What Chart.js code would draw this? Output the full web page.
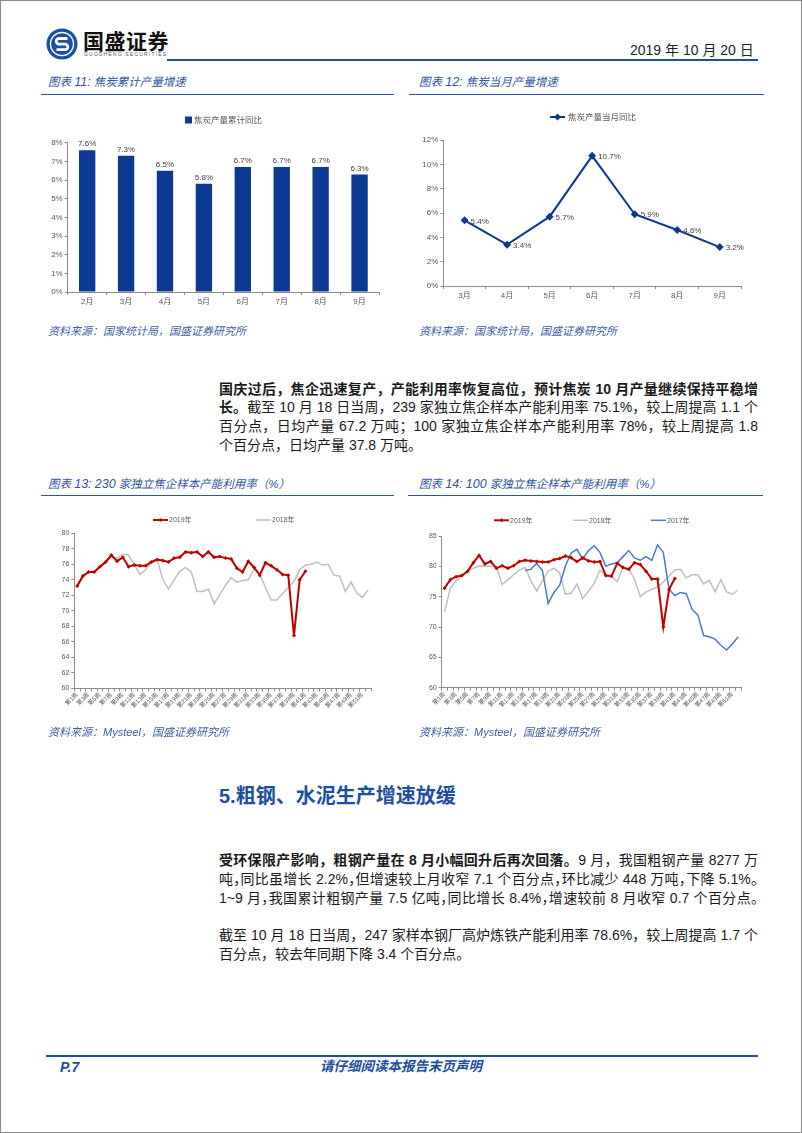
<!DOCTYPE html>
<html><head><meta charset="utf-8">
<script src="https://cdn.jsdelivr.net/npm/chart.js@4.4.0/dist/chart.umd.min.js"></script>
<style>
html,body{margin:0;padding:0;background:#fff;}
#page{position:relative;width:800px;height:1131px;border:1px solid #8a8a8a;overflow:hidden;font-family:"Liberation Sans","Noto Sans CJK SC",sans-serif;color:#1a1a1a;}
.abs{position:absolute;}
.title{font-style:italic;color:#2e56a0;font-size:11.5px;line-height:14px;white-space:nowrap;}
.title .n{font-size:12.5px;}
.uline{height:1.5px;background:#2e56a0;}
.src{font-style:italic;color:#3d5f9f;font-size:11px;line-height:14px;white-space:nowrap;}
.para{left:218px;width:539px;font-size:14px;}
.ln{white-space:nowrap;text-align:justify;text-align-last:justify;}
.ln.last{text-align-last:left;}
.halt{font-feature-settings:"halt";}
canvas{position:absolute;}
</style></head>
<body>
<div id="page">
  <!-- header -->
  <svg class="abs" style="left:45px;top:27px" width="32" height="32" viewBox="0 0 32 32">
    <circle cx="16" cy="16" r="15.5" fill="#1b4f9f"/>
    <circle cx="16" cy="16" r="11.5" fill="none" stroke="#fff" stroke-width="1.4"/>
    <path d="M21.5 10.5 H13 a2.8 2.8 0 0 0 0 5.6 h6 a2.8 2.8 0 0 1 0 5.6 H10.5" fill="none" stroke="#fff" stroke-width="2.8"/>
  </svg>
  <div class="abs" style="left:82px;top:27px;font-size:21px;font-weight:bold;line-height:24px;color:#111;font-family:'Noto Sans CJK SC';letter-spacing:0.5px">国盛证券</div>
  <div class="abs" style="left:83px;top:50px;font-size:5px;line-height:6px;letter-spacing:1.2px;color:#555">GUOSHENG SECURITIES</div>
  <div class="abs" style="left:629px;top:40px;font-size:14px;line-height:18px;color:#222;white-space:nowrap">2019 年 10 月 20 日</div>
  <div class="abs" style="left:166px;top:58px;width:591px;height:2px;background:#1d4fa0"></div>

  <!-- chart titles top -->
  <div class="abs title" style="left:47px;top:74px">图表 <span class="n">11:</span> 焦炭累计产量增速</div>
  <div class="abs uline" style="left:40px;top:92.5px;width:353px"></div>
  <div class="abs title" style="left:418px;top:74px">图表 <span class="n">12:</span> 焦炭当月产量增速</div>
  <div class="abs uline" style="left:408px;top:92.5px;width:355px"></div>

  <canvas id="c11" width="355" height="215" style="left:40px;top:100px"></canvas>
  <canvas id="c12" width="350" height="215" style="left:410px;top:100px"></canvas>

  <div class="abs src" style="left:47px;top:323px">资料来源：国家统计局，国盛证券研究所</div>
  <div class="abs src" style="left:418px;top:323px">资料来源：国家统计局，国盛证券研究所</div>

  <div class="abs para" style="top:378.5px;line-height:18.7px">
    <div class="ln"><b>国庆过后，焦企迅速复产，产能利用率恢复高位，预计焦炭 10 月产量继续保持平稳增</b></div>
    <div class="ln"><b>长。</b>截至 10 月 18 日当周，239 家独立焦企样本产能利用率 75.1%，较上周提高 1.1 个</div>
    <div class="ln">百分点，日均产量 67.2 万吨；100 家独立焦企样本产能利用率 78%，较上周提高 1.8</div>
    <div class="ln last">个百分点，日均产量 37.8 万吨。</div>
  </div>

  <!-- chart titles middle -->
  <div class="abs title" style="left:47px;top:476px">图表 <span class="n">13:</span> <span class="n">230</span> 家独立焦企样本产能利用率（%）</div>
  <div class="abs uline" style="left:40px;top:493.5px;width:353px"></div>
  <div class="abs title" style="left:418px;top:476px">图表 <span class="n">14:</span> <span class="n">100</span> 家独立焦企样本产能利用率（%）</div>
  <div class="abs uline" style="left:407px;top:493.5px;width:355px"></div>

  <canvas id="c13" width="340" height="230" style="left:40px;top:500px"></canvas>
  <canvas id="c14" width="370" height="230" style="left:400px;top:500px"></canvas>

  <div class="abs src" style="left:47px;top:724px">资料来源：Mysteel，国盛证券研究所</div>
  <div class="abs src" style="left:418px;top:724px">资料来源：Mysteel，国盛证券研究所</div>

  <div class="abs" style="left:218px;top:783px;font-size:20px;line-height:24px;font-weight:bold;color:#1d4fa0;white-space:nowrap">5.粗钢、水泥生产增速放缓</div>

  <div class="abs para" style="top:849.5px;line-height:19px">
    <div class="ln"><b>受环保限产影响，粗钢产量在 8 月小幅回升后再次回落。</b>9 月，我国粗钢产量 8277 万</div>
    <div class="ln halt">吨，同比虽增长 2.2%，但增速较上月收窄 7.1 个百分点，环比减少 448 万吨，下降 5.1%。</div>
    <div class="ln halt">1~9 月，我国累计粗钢产量 7.5 亿吨，同比增长 8.4%，增速较前 8 月收窄 0.7 个百分点。</div>
  </div>
  <div class="abs para" style="top:924.5px;line-height:19px">
    <div class="ln">截至 10 月 18 日当周，247 家样本钢厂高炉炼铁产能利用率 78.6%，较上周提高 1.7 个</div>
    <div class="ln last">百分点，较去年同期下降 3.4 个百分点。</div>
  </div>

  <!-- footer -->
  <div class="abs" style="left:45px;top:1054px;width:712px;height:2px;background:#1d4fa0"></div>
  <div class="abs" style="left:59px;top:1058px;font-size:14px;line-height:16px;font-weight:bold;font-style:italic;color:#1d4fa0">P.7</div>
  <div class="abs" style="left:300px;width:200px;text-align:center;top:1058px;font-size:13.5px;line-height:16px;font-weight:bold;font-style:italic;color:#1d4fa0;white-space:nowrap">请仔细阅读本报告末页声明</div>
</div>

<script>
// ---------- data ----------
const monthsCum = ['2月','3月','4月','5月','6月','7月','8月','9月'];
const cokeCumYoY = [7.6, 7.3, 6.5, 5.8, 6.7, 6.7, 6.7, 6.3];

const monthsMon = ['3月','4月','5月','6月','7月','8月','9月'];
const cokeMonYoY = [5.4, 3.4, 5.7, 10.7, 5.9, 4.6, 3.2];

const weekLabels = ['第1周','第2周','第3周','第4周','第5周','第6周','第7周','第8周','第9周','第10周',
  '第11周','第12周','第13周','第14周','第15周','第16周','第17周','第18周','第19周','第20周',
  '第21周','第22周','第23周','第24周','第25周','第26周','第27周','第28周','第29周','第30周',
  '第31周','第32周','第33周','第34周','第35周','第36周','第37周','第38周','第39周','第40周',
  '第41周','第42周','第43周','第44周','第45周','第46周','第47周','第48周','第49周','第50周',
  '第51周','第52周'];

const util230_2019 = [73.2,74.5,75.0,75.0,75.7,76.3,77.2,76.4,76.9,75.7,75.9,75.8,75.8,76.3,76.6,76.5,76.3,76.8,76.9,77.6,
  77.5,77.6,77.0,77.6,76.9,77.0,76.8,76.7,75.5,75.0,76.4,75.6,74.6,76.2,75.8,75.3,74.7,74.6,66.8,74.0,75.1];
const util230_2018 = [73.0,74.4,75.0,75.1,75.6,76.2,77.0,76.8,77.3,77.2,76.0,74.7,75.3,76.2,76.6,74.1,72.8,74.0,75.1,75.6,
  75.0,72.5,72.5,72.8,70.9,72.1,73.3,74.3,73.7,73.9,74.0,75.4,74.8,73.0,71.4,71.4,72.2,73.0,73.8,75.3,
  75.9,76.0,76.3,75.9,76.0,74.6,74.5,72.5,73.7,72.3,71.7,72.7];

const util100_2019 = [76.4,77.8,78.3,78.5,79.2,80.6,81.8,80.4,80.8,79.7,80.1,79.7,80.1,80.8,81.0,80.9,80.8,80.7,80.7,81.1,
  81.3,81.7,81.4,80.8,81.4,80.9,80.7,80.8,78.5,78.4,80.5,79.8,79.5,80.6,80.3,79.2,77.9,77.9,70.0,76.2,78.0];
const util100_2018 = [72.5,76.4,77.6,78.4,79.2,79.7,80.1,80.0,80.0,79.9,77.0,77.8,78.6,79.4,79.8,77.6,75.9,77.6,79.2,79.7,
  78.9,75.4,75.6,77.1,74.7,75.9,77.2,79.4,78.4,78.3,77.5,79.8,79.5,77.9,75.0,75.8,76.2,76.6,77.4,78.4,
  79.4,79.5,78.1,78.6,78.6,77.1,77.7,75.8,77.8,75.8,75.4,76.1];
const util100_2017 = [null,null,null,null,null,null,null,null,null,null,null,null,null,null,
  79.3,79.5,80.5,79.3,73.9,75.7,76.9,80.1,82.2,82.8,81.2,82.6,83.4,82.3,80.0,80.4,
  80.6,81.6,82.6,81.4,81.0,81.6,81.0,83.5,82.3,76.2,75.2,75.7,75.5,72.9,72.0,68.6,68.4,68.0,67.0,66.2,
  67.2,68.4];

// ---------- helpers ----------
const FONT = '"Liberation Sans","Noto Sans CJK SC",sans-serif';
const AX = '#8c8c8c';
const TXT = '#595959';
const BLUE = '#0c3a92';
const RED = '#c00000';
const GRAY = '#bfbfbf';
const BLUE17 = '#4a7cc2';

const legendPlugin = {
  id: 'customLegend',
  afterDraw(chart, args, opts) {
    const ctx = chart.ctx; ctx.save();
    (opts.items || []).forEach(it => {
      ctx.strokeStyle = it.color; ctx.fillStyle = it.color;
      if (it.type === 'box') {
        ctx.fillRect(it.x, it.y - it.size / 2, it.size, it.size);
      } else {
        ctx.lineWidth = it.width; ctx.beginPath();
        ctx.moveTo(it.x, it.y); ctx.lineTo(it.x + it.len, it.y); ctx.stroke();
        if (it.mr) {
          const cx = it.x + it.len / 2, r = it.mr;
          ctx.beginPath(); ctx.moveTo(cx, it.y - r); ctx.lineTo(cx + r, it.y);
          ctx.lineTo(cx, it.y + r); ctx.lineTo(cx - r, it.y); ctx.closePath(); ctx.fill();
        }
      }
      ctx.fillStyle = opts.color || TXT; ctx.font = opts.font;
      ctx.textAlign = 'left'; ctx.textBaseline = 'middle';
      ctx.fillText(it.text, it.tx, it.y + 0.5);
    });
    ctx.restore();
  }
};

const valuePlugin = {
  id: 'valueLabels',
  afterDatasetsDraw(chart, args, opts) {
    if (!opts || !opts.mode) return;
    const ctx = chart.ctx; const meta = chart.getDatasetMeta(0);
    const data = chart.data.datasets[0].data;
    ctx.save(); ctx.font = opts.font; ctx.fillStyle = opts.color || '#404040';
    meta.data.forEach((el, i) => {
      const t = data[i].toFixed(1) + '%';
      if (opts.mode === 'above') {
        ctx.textAlign = 'center'; ctx.textBaseline = 'bottom';
        ctx.fillText(t, el.x, el.y - 2);
      } else {
        ctx.textAlign = 'left'; ctx.textBaseline = 'middle';
        ctx.fillText(t, el.x + 6, el.y + 1);
      }
    });
    ctx.restore();
  }
};

function yAxis(min, max, step, width, fmt, size) {
  return {
    min: min, max: max,
    ticks: { stepSize: step, color: TXT, padding: 2, font: { size: size, family: FONT }, callback: fmt },
    grid: { drawOnChartArea: false, tickLength: 3, color: AX },
    border: { color: AX },
    afterFit(s) { s.width = width; }
  };
}
function xCat(height, size, rotate, everyOther) {
  return {
    offset: true,
    grid: { offset: true, drawOnChartArea: false, tickLength: 3, color: AX },
    border: { color: AX },
    ticks: {
      autoSkip: false, color: TXT, padding: rotate ? 0 : 2,
      maxRotation: rotate ? 45 : 0, minRotation: rotate ? 45 : 0,
      font: { size: size, family: FONT },
      callback: function (v, i) { const l = this.getLabelForValue(v); return everyOther ? (i % 2 === 0 ? l : '') : l; }
    },
    afterFit(s) { s.height = height; }
  };
}
const base = { responsive: false, animation: false, events: [] };

// ---------- chart 11 ----------
new Chart(document.getElementById('c11'), {
  type: 'bar',
  data: { labels: monthsCum, datasets: [{ data: cokeCumYoY, backgroundColor: BLUE, barPercentage: 0.42, categoryPercentage: 1 }] },
  options: Object.assign({}, base, {
    layout: { padding: { left: 0, right: 17, top: 41.7, bottom: 4 } },
    plugins: {
      legend: { display: false }, tooltip: { enabled: false },
      customLegend: { font: '8.5px ' + FONT, items: [{ type: 'box', x: 144, y: 19, size: 7, color: BLUE, text: '焦炭产量累计同比', tx: 153 }] },
      valueLabels: { mode: 'above', font: '8px ' + FONT }
    },
    scales: { x: xCat(20, 8, false, false), y: yAxis(0, 8, 1, 26.7, v => v + '%', 8) }
  }),
  plugins: [legendPlugin, valuePlugin]
});

// ---------- chart 12 ----------
new Chart(document.getElementById('c12'), {
  type: 'line',
  data: { labels: monthsMon, datasets: [{ data: cokeMonYoY, borderColor: '#0e3a8c', backgroundColor: '#0e3a8c', borderWidth: 2,
    pointStyle: 'rectRot', pointRadius: 4, pointBorderWidth: 0, tension: 0 }] },
  options: Object.assign({}, base, {
    layout: { padding: { left: 0, right: 20, top: 39, bottom: 12 } },
    plugins: {
      legend: { display: false }, tooltip: { enabled: false },
      customLegend: { font: '8.5px ' + FONT, items: [{ type: 'line', x: 139, y: 16, len: 15, width: 2, mr: 3.5, color: '#0e3a8c', text: '焦炭产量当月同比', tx: 157 }] },
      valueLabels: { mode: 'right', font: '8px ' + FONT }
    },
    scales: { x: xCat(18, 8, false, false), y: yAxis(0, 12, 2, 32.3, v => v + '%', 8) }
  }),
  plugins: [legendPlugin, valuePlugin]
});

// ---------- chart 13 ----------
new Chart(document.getElementById('c13'), {
  type: 'line',
  data: { labels: weekLabels, datasets: [
    { data: util230_2019, borderColor: RED, backgroundColor: RED, borderWidth: 2, pointStyle: 'rectRot', pointRadius: 2, pointBorderWidth: 0, tension: 0, order: 1 },
    { data: util230_2018, borderColor: GRAY, borderWidth: 1.5, pointRadius: 0, tension: 0, order: 2 }
  ] },
  options: Object.assign({}, base, {
    layout: { padding: { left: 0, right: 10, top: 32.3, bottom: 7.7 } },
    plugins: {
      legend: { display: false }, tooltip: { enabled: false },
      customLegend: { font: '7px ' + FONT, items: [
        { type: 'line', x: 112, y: 19, len: 15, width: 2, mr: 2, color: RED, text: '2019年', tx: 128 },
        { type: 'line', x: 215, y: 19, len: 15, width: 1.5, color: GRAY, text: '2018年', tx: 231 }
      ] }
    },
    scales: { x: xCat(35, 6, true, true), y: yAxis(60, 80, 2, 33.3, v => v, 7) }
  }),
  plugins: [legendPlugin]
});

// ---------- chart 14 ----------
new Chart(document.getElementById('c14'), {
  type: 'line',
  data: { labels: weekLabels, datasets: [
    { data: util100_2019, borderColor: RED, backgroundColor: RED, borderWidth: 2, pointStyle: 'rectRot', pointRadius: 2, pointBorderWidth: 0, tension: 0, order: 1 },
    { data: util100_2018, borderColor: GRAY, borderWidth: 1.5, pointRadius: 0, tension: 0, order: 3 },
    { data: util100_2017, borderColor: BLUE17, borderWidth: 1.5, pointRadius: 0, tension: 0, order: 2 }
  ] },
  options: Object.assign({}, base, {
    layout: { padding: { left: 0, right: 30, top: 35, bottom: 7.3 } },
    plugins: {
      legend: { display: false }, tooltip: { enabled: false },
      customLegend: { font: '7px ' + FONT, items: [
        { type: 'line', x: 93, y: 19.3, len: 15, width: 2, mr: 2, color: RED, text: '2019年', tx: 109 },
        { type: 'line', x: 172, y: 19.3, len: 15, width: 1.5, color: GRAY, text: '2018年', tx: 188 },
        { type: 'line', x: 250, y: 19.3, len: 15, width: 1.5, color: BLUE17, text: '2017年', tx: 266 }
      ] }
    },
    scales: { x: xCat(36, 6, true, true), y: yAxis(60, 85, 5, 40.7, v => v, 7) }
  }),
  plugins: [legendPlugin]
});
</script>
</body></html>
